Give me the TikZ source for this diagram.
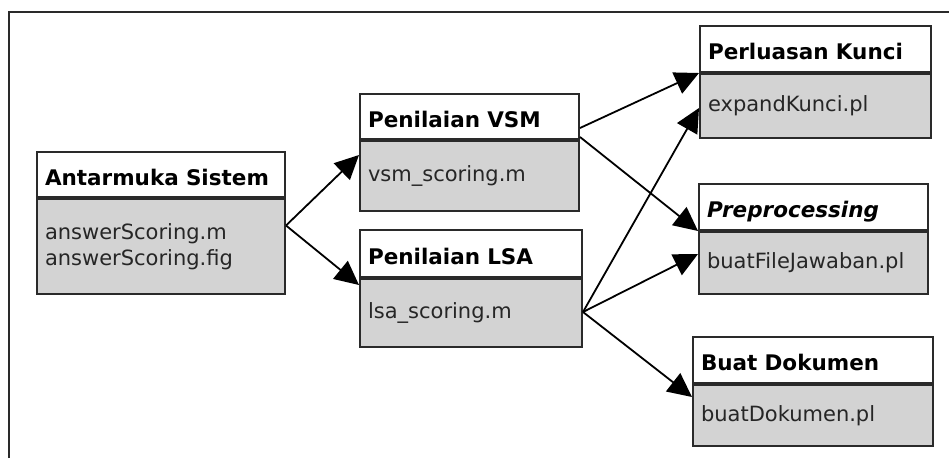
\documentclass[tikz,border=0pt]{standalone}
\usepackage{fontspec}
\setmainfont{DejaVu Sans}
\usetikzlibrary{positioning,arrows.meta}
\definecolor{isiabu}{HTML}{D3D3D3}
\definecolor{garis}{HTML}{2A2A2A}
\tikzset{
  judul/.style={draw=garis, line width=2pt, fill=white, anchor=north west,
    font=\fontsize{21.5pt}{26pt}\selectfont\bfseries, inner xsep=8pt, inner ysep=0pt,
    text height=21pt, text depth=0pt},
  isi/.style={draw=garis, line width=2pt, fill=isiabu, align=left, text=black!85,
    font=\fontsize{21pt}{26.5pt}\selectfont, inner xsep=8pt, inner ysep=0pt},
  panah/.style={-{Triangle[length=24pt,width=23pt]}, line width=1.8pt}
}
\begin{document}
\begin{tikzpicture}[x=1pt,y=-1pt]
      \useasboundingbox (0,0) rectangle (949,458);
      \draw[line width=2pt, garis] (9,458) -- (9,11.5) -- (949,11.5);
      % kotak kiri
      \node[judul, text width=232pt, minimum height=45pt] (antarmuka) at (36,151) {Antarmuka Sistem};
      \node[isi, text width=232pt, minimum height=95pt, below=0pt of antarmuka] (antarmukaIsi)
        {answerScoring.m\\answerScoring.fig};
      % kotak tengah
      \node[judul, text width=203pt, minimum height=45pt] (vsm) at (359,93) {Penilaian VSM};
      \node[isi, text width=203pt, minimum height=70pt, below=0pt of vsm] (vsmIsi) {vsm\_scoring.m};
      \node[judul, text width=206pt, minimum height=47pt] (lsa) at (359,229) {Penilaian LSA};
      \node[isi, text width=206pt, minimum height=68pt, below=0pt of lsa] (lsaIsi) {lsa\_scoring.m};
      % kotak kanan
      \node[judul, text width=215pt, minimum height=46pt] (perluasan) at (699,25) {Perluasan Kunci};
      \node[isi, text width=215pt, minimum height=64pt, below=0pt of perluasan] (perluasanIsi) {expandKunci.pl};
      \node[judul, text width=213pt, minimum height=46pt] (prepro) at (698,183) {\itshape Preprocessing};
      \node[isi, text width=213pt, minimum height=62pt, below=0pt of prepro] (preproIsi) {buatFileJawaban.pl};
      \node[judul, text width=224pt, minimum height=46pt] (dokumen) at (692,336) {Buat Dokumen};
      \node[isi, text width=224pt, minimum height=61pt, below=0pt of dokumen] (dokumenIsi) {buatDokumen.pl};
      \begin{scope}[panah]
        \draw ([yshift=21pt]antarmukaIsi.east) to ([yshift=-15pt]vsmIsi.north west);
        \draw ([yshift=21pt]antarmukaIsi.east) to ([yshift=-7pt]lsaIsi.north west);
        \draw ([yshift=12pt]vsm.south east) to (perluasan.south west);
        \draw ([yshift=3pt]vsm.south east) to (prepro.south west);
        \draw ([yshift=-34pt]lsaIsi.north east) to ([yshift=-35pt]perluasanIsi.north west);
        \draw ([yshift=-34pt]lsaIsi.north east) to ([yshift=-23pt]preproIsi.north west);
        \draw ([yshift=-34pt]lsaIsi.north east) to ([yshift=-13pt]dokumenIsi.north west);
      \end{scope}
    \end{tikzpicture}
\end{document}
